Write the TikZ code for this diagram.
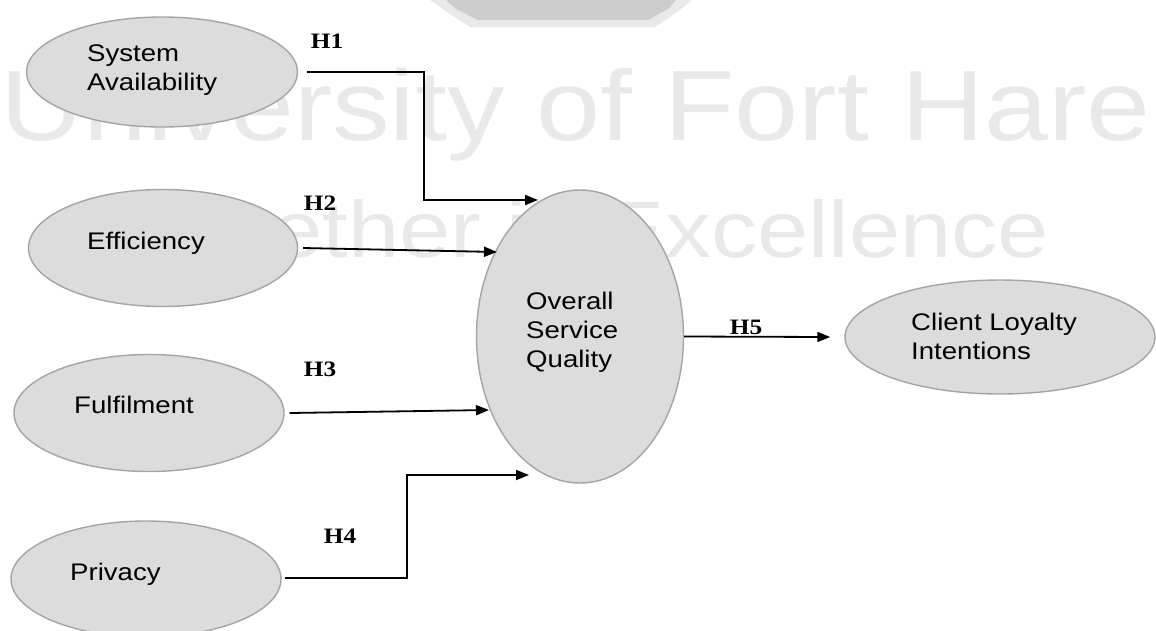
\documentclass[tikz,border=0pt]{standalone}
\usepackage{fontspec}
\setmainfont{Liberation Sans}[FakeStretch=1.15]
\newfontfamily\hypfont{Liberation Serif}[FakeStretch=1.15]
\usetikzlibrary{shapes.geometric,arrows.meta}
\definecolor{bubble}{HTML}{DCDCDC}
\definecolor{bubbleline}{HTML}{A4A4A4}
\definecolor{wmgray}{HTML}{E9E9E9}
\definecolor{crest}{HTML}{CDCDCD}
\begin{document}
\begin{tikzpicture}[x=1pt,y=-1pt,
  construct/.style={ellipse, draw=bubbleline, fill=bubble, line width=1.4pt, inner sep=0pt},
  lbl/.style={anchor=north west, inner sep=0pt, align=left, font=\fontsize{24}{29}\selectfont},
  hyp/.style={inner sep=0pt, font=\hypfont\bfseries\fontsize{22}{24}\selectfont},
  wm/.style={inner sep=0pt, text=wmgray},
  link/.style={line width=1.8pt, -{Triangle[length=13pt,width=10pt]}},
]
\useasboundingbox (0,0) rectangle (1156,630);

% faint background watermark
\fill[crest!45] (430,0) -- (692,0) -- (680,10) -- (655,27) -- (470,27) -- (444,10) -- cycle;
\fill[crest] (446,0) -- (676,0) -- (668,9) -- (648,20) -- (478,20) -- (456,9) -- cycle;
\node[wm, anchor=base west, font=\fontsize{100}{100}\selectfont] (wmtop) at (0,140) {University of Fort Hare};
\node[wm, anchor=base, font=\fontsize{80}{80}\selectfont] (wmbottom) at (586,257) {Together in Excellence};

% constructs
\node[construct, minimum width=271pt, minimum height=110pt] (sa)  at (162,72) {};
\node[construct, minimum width=269pt, minimum height=117pt] (eff) at (163,248) {};
\node[construct, minimum width=270pt, minimum height=117pt] (ful) at (149,413) {};
\node[construct, minimum width=270pt, minimum height=116pt] (prv) at (146,579) {};
\node[construct, minimum width=207pt, minimum height=293pt] (osq) at (580,336.5) {};
\node[construct, minimum width=310pt, minimum height=114pt] (cli) at (1000,337) {};

% construct names
\node[lbl] (sa-t)  at (87,45)  {System\\Availability};
\node[lbl] (eff-t) at (87,232) {Efficiency};
\node[lbl] (ful-t) at (74,396) {Fulfilment};
\node[lbl] (prv-t) at (70,563) {Privacy};
\node[lbl] (osq-t) at (526,292) {Overall\\Service\\Quality};
\node[lbl] (cli-t) at (911,313) {Client Loyalty\\Intentions};

% bends and arrow ends
\coordinate (k1) at (424,200);
\coordinate (t1) at (538,200);
\coordinate (t2) at (497,252);
\coordinate (t3) at (489,410);
\coordinate (k4) at (407,475);
\coordinate (t4) at (529,475);

% hypothesised paths
\draw[link] ([xshift=9pt]sa.east) -| (k1) -- (t1);
\draw[link] ([xshift=5pt]eff.east) -- (t2);
\draw[link] ([xshift=5pt]ful.east) -- (t3);
\draw[link] ([xshift=3pt,yshift=1pt]prv.east) -| (k4) -- (t4);
\draw[link] (osq.east) -- ([xshift=-14pt]cli.west);

% hypothesis labels
\node[hyp] (h1) at (327,41)  {H1};
\node[hyp] (h2) at (320,203) {H2};
\node[hyp] (h3) at (320,369) {H3};
\node[hyp] (h4) at (340,536) {H4};
\node[hyp] (h5) at (746,327) {H5};
\end{tikzpicture}
\end{document}
